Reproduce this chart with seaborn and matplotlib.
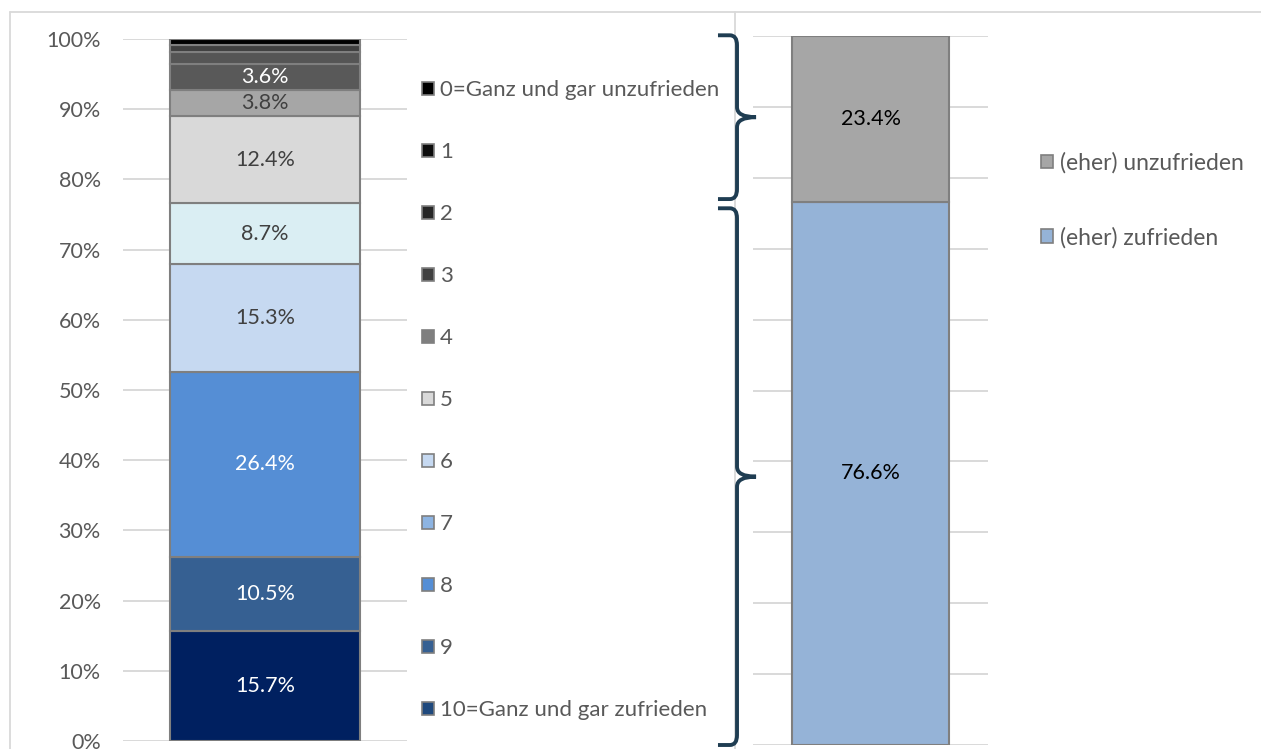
import matplotlib
matplotlib.use("Agg")
import matplotlib.pyplot as plt
import seaborn as sns
from matplotlib.patches import Patch, PathPatch
from matplotlib.path import Path
from matplotlib.lines import Line2D
from matplotlib.transforms import blended_transform_factory

# ---------------- data ----------------
categories = ["0=Ganz und gar unzufrieden", "1", "2", "3", "4", "5",
              "6", "7", "8", "9", "10=Ganz und gar zufrieden"]
shares = [0.8, 1.1, 1.7, 3.6, 3.8, 12.4, 8.7, 15.3, 26.4, 10.5, 15.7]
show_label = [False, False, False, True, True, True, True, True, True, True, True]

group_labels = ["(eher) unzufrieden", "(eher) zufrieden"]
group_shares = [23.4, 76.6]

y_ticks = [0, 10, 20, 30, 40, 50, 60, 70, 80, 90, 100]

# ---------------- style ----------------
bar_colors = ["#000000", "#3F3F3F", "#555555", "#595959", "#A6A6A6", "#D9D9D9",
              "#DAEEF3", "#C6D9F1", "#558ED5", "#366092", "#002060"]
legend_colors = ["#000000", "#0D0D0D", "#262626", "#404040", "#7F7F7F", "#D9D9D9",
                 "#C6D9F1", "#8DB4E2", "#558ED5", "#366092", "#1F497D"]
label_colors = ["white", "white", "white", "white", "#404040", "#404040",
                "#404040", "#404040", "white", "white", "white"]
group_colors = ["#A6A6A6", "#95B3D7"]
edge = "#7F7F7F"
grid_c = "#D9D9D9"
text_c = "#595959"
brace_c = "#1F3D52"
FS = 15.5

sns.set_style("white")
plt.rcParams["font.family"] = ["Lato", "DejaVu Sans"]

W, H = 1261, 749
fig = plt.figure(figsize=(W / 100, H / 100), dpi=100)

def px_ax(l, r, t, b):
    return fig.add_axes([l / W, 1 - b / H, (r - l) / W, (b - t) / H])

# ---------------- left chart ----------------
ax1 = px_ax(123, 407, 39, 741)
cum = 0.0
for i in range(len(categories) - 1, -1, -1):
    v = shares[i]
    sns.barplot(x=[0], y=[v], bottom=cum, color=bar_colors[i], saturation=1,
                width=0.8, edgecolor=edge, linewidth=1.5, ax=ax1, zorder=3)
    if show_label[i]:
        ax1.bar_label(ax1.containers[-1], labels=[f"{v:.1f}%"], label_type="center",
                      color=label_colors[i], fontsize=FS)
    cum += v

ax1.set_ylim(0, 100)
ax1.set_xlim(-0.601, 0.601)
ax1.set_yticks(y_ticks)
ax1.set_yticklabels([f"{t}%" for t in y_ticks])
ax1.set_xticks([])
ax1.set_xlabel("")
ax1.set_ylabel("")
ax1.tick_params(axis="y", length=0, pad=16, labelsize=FS, labelcolor=text_c)
ax1.yaxis.grid(True, color=grid_c, lw=1.4, zorder=0)
ax1.set_axisbelow(True)
for s in ax1.spines.values():
    s.set_visible(False)

handles1 = [Patch(facecolor=legend_colors[i], edgecolor=edge, lw=1.2, label=categories[i])
            for i in range(len(categories))]
fig.legend(handles=handles1, loc="upper left", bbox_to_anchor=(422 / W, 1 - 80 / H),
           frameon=False, fontsize=16, labelcolor=text_c, handlelength=0.52,
           handleheight=0.52, handletextpad=0.3, labelspacing=1.89, borderpad=0,
           borderaxespad=0)

# ---------------- right chart ----------------
ax2 = px_ax(753, 988, 36, 745)
cum = 0.0
for j in range(len(group_labels) - 1, -1, -1):
    v = group_shares[j]
    sns.barplot(x=[0], y=[v], bottom=cum, color=group_colors[j], saturation=1,
                width=0.8, edgecolor=edge, linewidth=1.5, ax=ax2, zorder=3)
    ax2.bar_label(ax2.containers[-1], labels=[f"{v:.1f}%"], label_type="center",
                  color="black", fontsize=FS)
    cum += v
ax2.set_ylim(0, 100)
ax2.set_xlim(-0.599, 0.599)
ax2.set_yticks(y_ticks)
ax2.set_yticklabels([])
ax2.set_xticks([])
ax2.set_xlabel("")
ax2.set_ylabel("")
ax2.tick_params(axis="y", length=0)
ax2.yaxis.grid(True, color=grid_c, lw=1.4, zorder=0)
ax2.set_axisbelow(True)
for s in ax2.spines.values():
    s.set_visible(False)

handles2 = [Patch(facecolor=group_colors[j], edgecolor=edge, lw=1.2, label=group_labels[j])
            for j in range(len(group_labels))]
fig.legend(handles=handles2, loc="upper left", bbox_to_anchor=(1041 / W, 1 - 152 / H),
           frameon=False, fontsize=16.5, labelcolor=text_c, handlelength=0.52,
           handleheight=0.52, handletextpad=0.3, labelspacing=2.32, borderpad=0,
           borderaxespad=0)

# ---------------- braces ----------------
tr = blended_transform_factory(ax2.transAxes, ax2.transData)
xl, xv, xt = -0.149, -0.068, 0.013
rx, ry = 0.03, 1.4

def brace(y0, y1):
    ym = (y0 + y1) / 2
    verts = [(xl, y1), (xv - rx, y1), (xv, y1), (xv, y1 - ry),
             (xv, ym + ry), (xv, ym), (xt, ym),
             (xt, ym), (xv, ym), (xv, ym - ry),
             (xv, y0 + ry), (xv, y0), (xv - rx, y0), (xl, y0)]
    codes = [Path.MOVETO, Path.LINETO, Path.CURVE3, Path.CURVE3,
             Path.LINETO, Path.CURVE3, Path.CURVE3,
             Path.MOVETO, Path.CURVE3, Path.CURVE3,
             Path.LINETO, Path.CURVE3, Path.CURVE3, Path.LINETO]
    p = PathPatch(Path(verts, codes), transform=tr, fill=False, edgecolor=brace_c,
                  lw=2.8, clip_on=False, capstyle="butt", joinstyle="round", zorder=5)
    ax2.add_patch(p)

brace(group_shares[1] + 0.4, 100.1)
brace(0, group_shares[1] - 0.9)

# ---------------- frame lines ----------------
for (x0, y0, x1, y1) in [(10, 12, 1261, 12), (10, 12, 10, 749), (735, 12, 735, 749)]:
    fig.add_artist(Line2D([x0 / W, x1 / W], [1 - y0 / H, 1 - y1 / H],
                          transform=fig.transFigure, color=grid_c, lw=1.3, zorder=0))

fig.savefig("out.png", dpi=100)
